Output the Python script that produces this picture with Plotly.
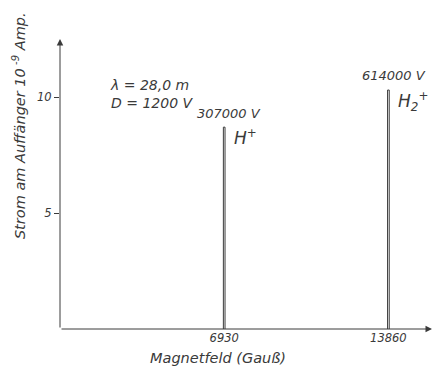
import plotly.graph_objects as go

# Peak positions (magnetic field, Gauss) and collector current (10^-9 A)
peak_field = [6930, 13860]
peak_current = [8.7, 10.3]
peak_half_width = 35
peak_energy = ["307000 V", "614000 V"]
peak_ion = ["H<sup>+</sup>", "H<sub>2</sub><sup>+</sup>"]

x_ticks = [6930, 13860]
y_ticks = [5, 10]

INK = "#3a3a3a"
FONT = dict(family="DejaVu Sans", size=11, color=INK, style="italic")

fig = go.Figure()

# each peak drawn as a narrow double line
for f, c in zip(peak_field, peak_current):
    fig.add_trace(go.Scatter(
        x=[f - peak_half_width, f - peak_half_width, f + peak_half_width, f + peak_half_width],
        y=[0, c, c, 0],
        mode="lines", line=dict(color=INK, width=1), showlegend=False, hoverinfo="skip"))

X_MAX, Y_MAX = 15700, 12.5

fig.update_layout(
    width=437, height=371,
    margin=dict(l=60, r=5, t=39, b=42),
    paper_bgcolor="white", plot_bgcolor="white",
    font=FONT,
    xaxis=dict(range=[0, X_MAX], showgrid=False, zeroline=False, showline=False,
               tickvals=x_ticks, ticktext=[str(v) for v in x_ticks],
               ticks="", tickfont=dict(FONT, size=11.5)),
    yaxis=dict(range=[0, Y_MAX], showgrid=False, zeroline=False, showline=False,
               tickvals=y_ticks, ticktext=[str(v) for v in y_ticks],
               ticks="outside", ticklen=5, tickcolor=INK, tickfont=dict(FONT, size=11.5)),
)

# axes with arrow heads
fig.add_annotation(x=X_MAX, y=0, ax=0, ay=0, xref="x", yref="y", axref="x", ayref="y",
                   showarrow=True, arrowhead=2, arrowsize=1.3, arrowwidth=1, arrowcolor=INK, text="")
fig.add_annotation(x=0, y=Y_MAX, ax=0, ay=0, xref="x", yref="y", axref="x", ayref="y",
                   showarrow=True, arrowhead=2, arrowsize=1.3, arrowwidth=1, arrowcolor=INK, text="")

# peak labels: energy above, ion name to the right of each peak
for f, c, e, ion in zip(peak_field, peak_current, peak_energy, peak_ion):
    fig.add_annotation(x=f + 1650, y=c + 0.2, text=e, showarrow=False,
                       xanchor="right", yanchor="bottom", font=dict(FONT, size=13))
    fig.add_annotation(x=f + 330, y=c + 0.15, text=ion, showarrow=False,
                       xanchor="left", yanchor="top", font=dict(FONT, size=17))

# measurement conditions
fig.add_annotation(x=0.13, y=0.745, xref="paper", yref="paper", xanchor="left", yanchor="bottom",
                   text="λ = 28,0 m<br>D = 1200 V", align="left", showarrow=False,
                   font=dict(FONT, size=14))

# axis titles
fig.add_annotation(x=0.425, y=-0.065, xref="paper", yref="paper", xanchor="center", yanchor="top",
                   text="Magnetfeld (Gauß)", showarrow=False, font=dict(FONT, size=14.5))
fig.add_annotation(x=-0.11, y=0.70, xref="paper", yref="paper", xanchor="center", yanchor="middle",
                   text="Strom am Auffänger 10<sup> -9</sup> Amp.", textangle=-90, showarrow=False,
                   font=dict(FONT, size=14.5))

fig.write_html("out.html")
